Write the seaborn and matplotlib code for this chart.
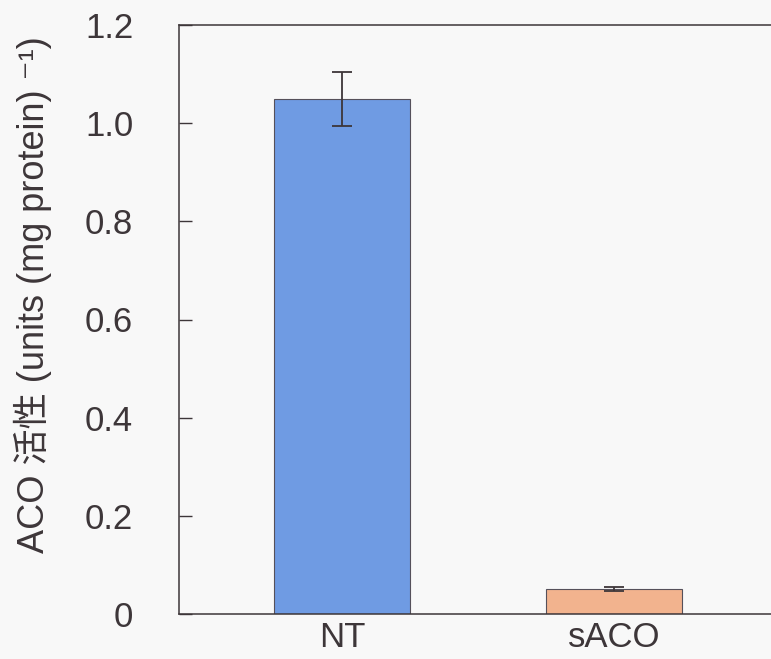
import matplotlib
matplotlib.use("Agg")
import matplotlib.pyplot as plt
import seaborn as sns
import pandas as pd

# Data
groups = ["NT", "sACO"]
activity = [1.05, 0.05]
activity_err = [0.055, 0.004]
bar_colors = ["#6f9be3", "#f2b38e"]
ytick_values = [0, 0.2, 0.4, 0.6, 0.8, 1.0, 1.2]
ytick_labels = ["0", "0.2", "0.4", "0.6", "0.8", "1.0", "1.2"]

sns.set_style("white")
plt.rcParams["font.family"] = ["Liberation Sans", "Noto Sans CJK SC", "DejaVu Sans"]

ink = "#3d3639"
bg = "#f8f8f8"

W, H = 771, 659
fig = plt.figure(figsize=(W / 100, H / 100), dpi=100, facecolor=bg)
ax = fig.add_axes([179 / W, (H - 614) / H, (777 - 179) / W, (614 - 25) / H])
ax.set_facecolor(bg)

df = pd.DataFrame({"group": groups, "activity": activity})
sns.barplot(data=df, x="group", y="activity", hue="group", palette=bar_colors,
            order=groups, hue_order=groups, legend=False, errorbar=None,
            saturation=1, width=0.5, edgecolor="#55505a", linewidth=0.8, ax=ax)

ax.errorbar(range(len(groups)), activity, yerr=activity_err, fmt="none",
            ecolor=ink, elinewidth=1.3, capsize=7, capthick=1.3)

ax.set_ylim(0, 1.2)
ax.set_xlim(-0.6, 1.6)
ax.set_yticks(ytick_values)
ax.set_yticklabels(ytick_labels)

for side in ["top", "left", "bottom"]:
    ax.spines[side].set_color(ink)
    ax.spines[side].set_linewidth(1.1)
ax.spines["right"].set_visible(False)

ax.tick_params(axis="y", direction="in", length=9, width=1, color=ink,
               labelsize=25, labelcolor=ink, pad=33, left=True)
ax.tick_params(axis="x", length=0, labelsize=25, labelcolor=ink, pad=5)

ax.set_xlabel("")
ax.set_ylabel("ACO 活性 (units (mg protein) ⁻¹)", fontsize=26, color=ink)
ax.yaxis.set_label_coords(-0.213, 0.543)

fig.savefig("out.png", dpi=100, facecolor=bg)
